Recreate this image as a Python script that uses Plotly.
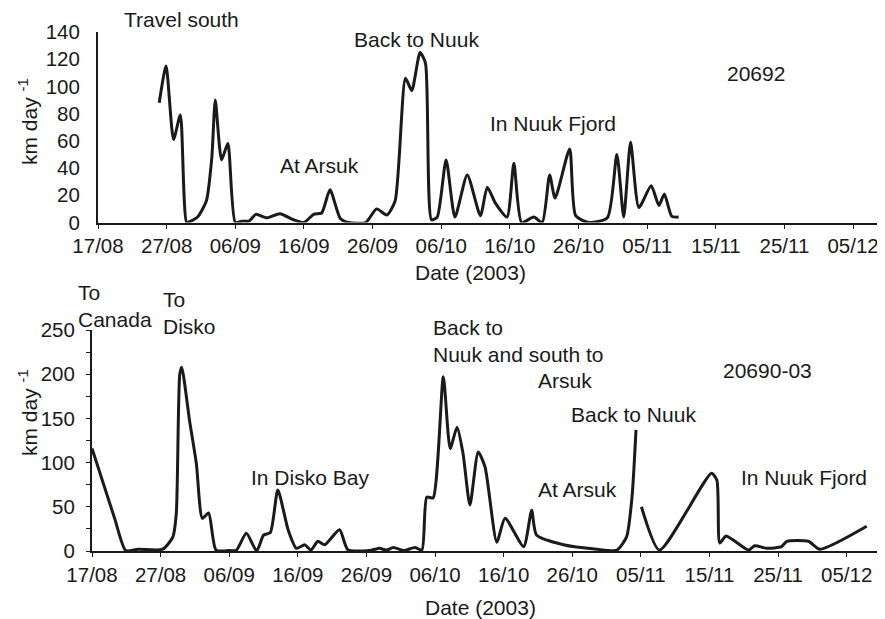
import plotly.graph_objects as go

# ---- Top panel: tag 20692 ----
top_dates = [
    "2003-08-25 22:00", "2003-08-26 22:00", "2003-08-28 00:00", "2003-08-29 00:00",
    "2003-08-29 22:00", "2003-08-30 12:00", "2003-08-31 12:00", "2003-09-01 19:00",
    "2003-09-02 14:00", "2003-09-03 02:00", "2003-09-04 00:00", "2003-09-04 22:00",
    "2003-09-06 00:00", "2003-09-07 00:00", "2003-09-08 00:00", "2003-09-09 00:00",
    "2003-09-10 14:00", "2003-09-12 12:00", "2003-09-14 12:00", "2003-09-16 00:00",
    "2003-09-17 10:00", "2003-09-18 14:00", "2003-09-19 19:00", "2003-09-21 07:00",
    "2003-09-22 12:00", "2003-09-25 00:00", "2003-09-26 14:00", "2003-09-28 02:00",
    "2003-09-29 07:00", "2003-09-30 19:00", "2003-10-01 17:00", "2003-10-02 22:00",
    "2003-10-03 17:00", "2003-10-04 14:00", "2003-10-05 10:00", "2003-10-06 17:00",
    "2003-10-08 00:00", "2003-10-09 19:00", "2003-10-11 17:00", "2003-10-12 17:00",
    "2003-10-13 22:00", "2003-10-15 14:00", "2003-10-16 14:00", "2003-10-17 17:00",
    "2003-10-19 12:00", "2003-10-20 17:00", "2003-10-21 19:00", "2003-10-22 14:00",
    "2003-10-24 17:00", "2003-10-25 14:00", "2003-10-27 12:00", "2003-10-30 05:00",
    "2003-10-31 14:00", "2003-11-01 14:00", "2003-11-02 14:00", "2003-11-03 19:00",
    "2003-11-05 14:00", "2003-11-06 17:00", "2003-11-07 12:00", "2003-11-08 14:00",
    "2003-11-09 14:00",
]
top_values = [
    88, 115, 61, 79,
    0, 1, 4, 16,
    48, 90, 46, 58,
    0, 1, 1, 6,
    3.5, 6.5, 2, 0,
    6, 7, 24, 3,
    0, 0, 10, 5.5,
    16, 106, 97, 125,
    117, 2, 4, 46,
    4, 35, 5, 26,
    14, 4, 43.5, 0,
    4, 0, 35, 18,
    54, 5, 0, 3.5,
    50, 4, 59, 11,
    27, 12.5, 21, 4.5,
    4,
]

# ---- Bottom panel: tag 20690-03 ----
bot_dates = [
    "2003-08-17 00:00", "2003-08-20 07:00", "2003-08-21 22:00", "2003-08-23 17:00",
    "2003-08-27 07:00", "2003-08-28 19:00", "2003-08-29 07:00", "2003-08-29 19:00",
    "2003-08-30 02:00", "2003-08-31 05:00", "2003-09-01 05:00", "2003-09-02 02:00",
    "2003-09-03 00:00", "2003-09-04 02:00", "2003-09-06 02:00", "2003-09-07 00:00",
    "2003-09-08 12:00", "2003-09-10 00:00", "2003-09-11 00:00", "2003-09-12 00:00",
    "2003-09-13 02:00", "2003-09-14 14:00", "2003-09-15 19:00", "2003-09-17 00:00",
    "2003-09-17 22:00", "2003-09-18 22:00", "2003-09-19 22:00", "2003-09-22 02:00",
    "2003-09-23 07:00", "2003-09-26 17:00", "2003-09-27 22:00", "2003-09-28 22:00",
    "2003-09-29 22:00", "2003-10-01 10:00", "2003-10-03 02:00", "2003-10-04 02:00",
    "2003-10-04 19:00", "2003-10-05 17:00", "2003-10-07 05:00", "2003-10-08 05:00",
    "2003-10-09 05:00", "2003-10-10 02:00", "2003-10-11 02:00", "2003-10-12 07:00",
    "2003-10-13 07:00", "2003-10-15 00:00", "2003-10-16 05:00", "2003-10-18 22:00",
    "2003-10-20 02:00", "2003-10-20 19:00", "2003-10-24 17:00", "2003-10-29 14:00",
    "2003-11-01 12:00", "2003-11-02 22:00", "2003-11-03 17:00", "2003-11-04 07:00",
    "2003-11-04 16:00",
    "2003-11-05 02:00", "2003-11-07 17:00", "2003-11-15 07:00", "2003-11-16 02:00",
    "2003-11-16 12:00", "2003-11-17 10:00", "2003-11-20 17:00", "2003-11-21 14:00",
    "2003-11-23 10:00", "2003-11-25 12:00", "2003-11-26 07:00", "2003-11-29 10:00",
    "2003-12-01 02:00", "2003-12-07 22:00",
]
bot_values = [
    116, 37, 0.5, 2,
    2, 16, 43, 200,
    208, 148, 99, 37,
    43, 1, 0.5, 0.5,
    20, 0, 18, 21,
    69, 24, 3, 7,
    1, 11, 7, 24,
    1.5, 1, 3, 1,
    4, 0.5, 4, 1,
    61, 60, 197, 116,
    140, 110, 52, 112,
    95, 10, 37, 5,
    46, 18, 7, 2,
    1, 16, 61, 137,
    None,
    50, 1, 88, 80,
    9, 17, 1, 6,
    3, 5, 11, 11,
    2, 28,
]

top_yticks = [0, 20, 40, 60, 80, 100, 120, 140]
bot_yticks = [0, 50, 100, 150, 200, 250]

top_labels = ["Travel south", "Back to Nuuk", "At Arsuk", "In Nuuk Fjord", "20692"]
bot_labels = ["To<br>Canada", "To<br>Disko", "In Disko Bay", "Back to<br>Nuuk and south to",
              "Arsuk", "At Arsuk", "Back to Nuuk", "20690-03", "In Nuuk Fjord"]
x_title = "Date (2003)"
y_title = "km day <sup>-1</sup>"

# the page places the figure 8px from the top-left corner
OFF = 8
W, H = 885 - OFF, 619 - OFF
FONT = "Liberation Sans, Arial, sans-serif"
INK = "#1a1a1a"


def px(x):
    return (x - OFF) / W


def py(y):
    return 1 - (y - OFF) / H


fig = go.Figure()
fig.add_trace(go.Scatter(x=top_dates, y=top_values, mode="lines",
                         line=dict(color=INK, width=3, shape="spline", smoothing=0.6),
                         xaxis="x", yaxis="y", showlegend=False))
fig.add_trace(go.Scatter(x=bot_dates, y=bot_values, mode="lines", connectgaps=False,
                         line=dict(color=INK, width=3, shape="spline", smoothing=0.6),
                         xaxis="x2", yaxis="y2", showlegend=False))

tickfont = dict(family=FONT, size=20.5, color=INK)
xcommon = dict(type="date", tickmode="linear", tick0="2003-08-17", dtick=864000000,
               tickformat="%d/%m", showgrid=False, zeroline=False, showline=True,
               linecolor=INK, linewidth=2, ticks="outside", ticklen=4,
               tickcolor=INK, automargin=False, tickfont=tickfont)
ycommon = dict(showgrid=False, zeroline=False, showline=True, linecolor=INK,
               linewidth=2, tickcolor=INK, automargin=False,
               tickfont=tickfont, tickmode="array")

fig.update_layout(
    width=W, height=H, margin=dict(l=0, r=0, t=0, b=0, autoexpand=False),
    paper_bgcolor="white", plot_bgcolor="white",
    xaxis=dict(xcommon, domain=[px(98), px(884)], anchor="y",
               range=["2003-08-17", "2003-12-09 12:00"]),
    yaxis=dict(ycommon, domain=[py(222.5), py(32)], anchor="x", range=[0, 140],
               tickvals=top_yticks, ticks="", ticklabelstandoff=12),
    xaxis2=dict(xcommon, domain=[px(92), px(885)], anchor="y2",
                range=["2003-08-17", "2003-12-10 14:00"]),
    yaxis2=dict(ycommon, domain=[py(551), py(330)], anchor="x2", range=[0, 250],
                tickvals=bot_yticks, ticks="outside", ticklen=4, ticklabelstandoff=7,
                minor=dict(dtick=25, ticks="outside", ticklen=4, tickcolor=INK)),
)

fnt = dict(family=FONT, size=21, color=INK)


def ann(text, x, y, xanchor="center", angle=0):
    fig.add_annotation(text=text, x=px(x), y=py(y), xref="paper", yref="paper",
                       xanchor=xanchor, yanchor="middle", showarrow=False,
                       align="left", font=fnt, textangle=angle)


# top panel text
ann(top_labels[0], 181, 20)
ann(top_labels[1], 416, 40)
ann(top_labels[2], 319, 165)
ann(top_labels[3], 553, 123)
ann(top_labels[4], 756, 73)
ann(x_title, 470, 272)
ann(y_title, 28, 122, angle=-90)

# bottom panel text
ann(bot_labels[0], 76, 306, xanchor="left")
ann(bot_labels[1], 161, 313, xanchor="left")
ann(bot_labels[2], 310, 477)
ann(bot_labels[3], 431, 341, xanchor="left")
ann(bot_labels[4], 536, 380, xanchor="left")
ann(bot_labels[5], 536, 489, xanchor="left")
ann(bot_labels[6], 569, 414, xanchor="left")
ann(bot_labels[7], 767, 370)
ann(bot_labels[8], 739, 477, xanchor="left")
ann(x_title, 480, 607)
ann(y_title, 28, 413, angle=-90)

fig.write_html("out.html")
